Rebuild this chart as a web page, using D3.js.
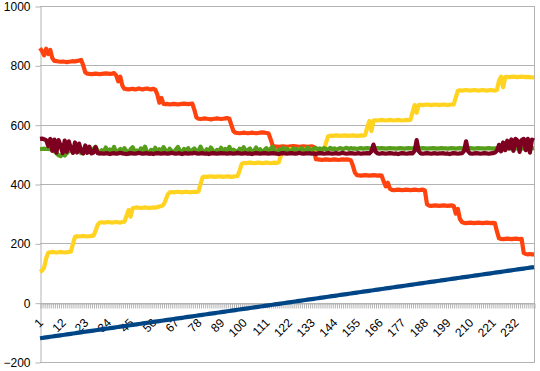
<!DOCTYPE html>
<html>
<head>
<meta charset="utf-8">
<script src="https://cdn.jsdelivr.net/npm/d3@7"></script>
<style>
  body { margin: 0; background: #fff; }
  text { font-family: "Liberation Sans", Arial, sans-serif; }
</style>
</head>
<body>
<script>
// categorias 1..241 (uma por linha da planilha)
const categories = d3.range(1, 242);
const tickLabels = [1, 12, 23, 34, 45, 56, 67, 78, 89, 100, 111, 122, 133, 144, 155, 166, 177, 188, 199, 210, 221, 232];
const yTicks = [-200, 0, 200, 400, 600, 800, 1000];

const serieAzul = [
  -120,-119,-118,-117,-116,-115,-114,-113,-112,-111,
  -110,-109,-108,-107,-106,-105,-104,-103,-102,-101,
  -100,-99,-98,-97,-96,-95,-94,-93,-92,-91,
  -90,-89,-88,-87,-86,-85,-84,-83,-82,-81,
  -80,-79,-78,-77,-76,-75,-74,-73,-72,-71,
  -70,-69,-68,-67,-66,-65,-64,-63,-62,-61,
  -60,-59,-58,-57,-56,-55,-54,-53,-52,-51,
  -50,-49,-48,-47,-46,-45,-44,-43,-42,-41,
  -40,-39,-38,-37,-36,-35,-34,-33,-32,-31,
  -30,-29,-28,-27,-26,-25,-24,-23,-22,-21,
  -20,-19,-18,-17,-16,-15,-14,-13,-12,-11,
  -10,-9,-8,-7,-6,-5,-4,-3,-2,-1,
  0,1,2,3,4,5,6,7,8,9,
  10,11,12,13,14,15,16,17,18,19,
  20,21,22,23,24,25,26,27,28,29,
  30,31,32,33,34,35,36,37,38,39,
  40,41,42,43,44,45,46,47,48,49,
  50,51,52,53,54,55,56,57,58,59,
  60,61,62,63,64,65,66,67,68,69,
  70,71,72,73,74,75,76,77,78,79,
  80,81,82,83,84,85,86,87,88,89,
  90,91,92,93,94,95,96,97,98,99,
  100,101,102,103,104,105,106,107,108,109,
  110,111,112,113,114,115,116,117,118,119,
  120
];

const serieLaranja = [
  858, 848, 834, 856, 838, 852, 824,
  815, 814, 813, 812, 813, 812, 811, 812, 813, 814, 813, 815, 816, 818,
  800, 776,
  772, 771, 770, 771, 772, 771, 770, 771, 772, 773, 772, 771, 772, 774,
  766, 746, 762, 732,
  721, 720, 719, 720, 721, 719, 720, 722, 720, 719, 721, 722, 720, 719, 721, 718,
  702, 674, 690, 670,
  669, 670, 668, 669, 670, 669, 668, 669, 670, 671, 670, 669, 670, 671,
  650, 624,
  620, 619, 620, 621, 620, 619, 618, 619, 620, 621, 620, 619, 620, 621, 622, 620,
  598, 578,
  573, 572, 571, 572, 573, 572, 571, 572, 573, 572, 571, 572, 573, 574, 573, 572, 571,
  552, 530,
  527, 526, 525, 526, 527, 526, 525, 526, 527, 528, 527, 526, 525, 526, 527, 526, 525, 526, 527, 525,
  484, 483, 482, 481, 482, 483, 482, 481, 482, 483, 482, 481, 482, 483, 482, 483, 482, 480,
  462, 438,
  430, 429, 428, 429, 430, 429, 428, 429, 430, 429, 428, 429, 428,
  408, 392, 404, 384,
  380, 379, 380, 381, 380, 379, 380, 381, 380, 379, 380, 381, 380, 379, 380, 381, 378,
  332,
  327, 326, 327, 328, 327, 326, 327, 328, 327, 326, 327, 328, 326,
  300, 316, 282, 272,
  269, 268, 269, 270, 269, 268, 269, 270, 269, 268, 269, 270, 269, 268, 269, 268,
  240, 217,
  215, 214, 215, 216, 215, 214, 215, 216, 215, 214, 215,
  168,
  164, 163, 164, 163, 163
];

const serieAmarela = [
  104, 108, 118, 150, 168,
  170, 171, 170, 169, 170, 171, 170, 169, 170, 171, 172,
  198, 222,
  224, 223, 224, 225, 224, 223, 224, 225, 226,
  242, 262, 270,
  271, 270, 271, 272, 271, 270, 271, 272, 271, 270, 272, 273,
  292, 312, 290, 318,
  320, 321, 320, 319, 320, 321, 320, 319, 320, 321, 320, 322, 324, 326,
  330, 345, 364, 372,
  373, 372, 373, 374, 373, 372, 373, 374, 373, 372, 373, 374, 373, 375,
  400, 423,
  425, 424, 425, 426, 425, 424, 425, 426, 425, 424, 425, 426, 425, 424, 425, 426, 427,
  446, 468,
  471, 470, 471, 472, 471, 470, 471, 472, 471, 470, 471, 472, 471, 470, 471, 472, 471, 473,
  495, 515,
  517, 516, 517, 518, 517, 516, 517, 518, 517, 516, 517, 518, 517, 516, 517, 518, 517, 516, 517, 518,
  540, 561,
  563, 562, 563, 564, 563, 562, 563, 564, 563, 562, 563, 564, 563, 562, 563, 564, 563, 565,
  592, 612, 578, 614,
  615, 614, 615, 616, 615, 614, 615, 616, 615, 614, 615, 616, 615, 614, 615, 616, 615, 617,
  642, 666, 640, 667,
  667, 666, 667, 668, 667, 666, 667, 668, 667, 666, 667, 668, 667, 666, 667, 668, 668,
  692, 714,
  716, 715, 716, 717, 716, 715, 716, 717, 716, 715, 716, 717, 716, 715, 716, 717, 716, 715, 717,
  748, 762, 726, 760,
  761, 760, 761, 762, 761, 760, 761, 762, 761, 760, 761, 760, 759, 760
];

const serieVerde = [
  518, 518, 519, 518, 518, 517, 516,
  510, 504, 497, 494, 500, 496, 504, 511,
  518, 506, 512, 524, 510, 504, 515, 522, 508, 513,
  505, 519, 526, 511, 503, 514, 509, 523, 507, 516,
  510, 525, 504, 512, 518, 506, 521, 511, 502, 517,
  524, 509, 513, 505, 520, 512, 526, 508, 503, 515,
  511, 522, 506, 517, 509, 524, 513, 504, 519, 510,
  507, 516, 525, 512, 503, 518, 510, 521, 506, 514,
  520, 508, 512, 526, 511, 505, 517, 509, 523, 513,
  504, 515, 510, 522, 507, 518, 512, 525, 509, 516,
  511, 503, 519, 513, 524, 508, 515, 520, 506, 512,
  523, 510, 517, 505, 514, 521, 509, 518, 526, 511,
  507, 516, 512, 522, 510, 519, 513, 508, 520, 515,
  518, 512, 521, 516, 510, 523, 517, 513, 519, 522,
  516, 520, 514, 521, 518, 515, 522, 517, 520, 516,
  519, 521, 517, 520, 522, 518, 521, 519, 520, 518,
  520, 521, 519, 520, 521, 520, 519, 521, 520, 521,
  520, 521, 520, 519, 520, 521, 520, 520, 519, 520,
  521, 520, 519, 520, 521, 520, 520, 521, 520, 519,
  520, 521, 520, 519, 520, 520, 521, 520, 519, 520,
  521, 520, 520, 519, 520, 521, 520, 519, 520, 521,
  520, 520, 519, 520, 521, 520, 519, 520, 521, 520,
  520, 519, 520, 521, 520, 519, 520, 520, 521, 520,
  519, 520, 521, 520, 520, 519, 520, 521, 520, 519,
  520, 521, 520, 519, 520, 521
];

const serieVinho = [
  552, 553, 551, 548,
  528, 552, 512, 550, 506, 548, 530, 504, 546, 508, 544, 520, 505, 540, 506, 536, 510, 503, 530, 505, 526, 503, 506, 524, 504, 503,
  503, 502, 504, 503, 501, 503, 504, 502, 503, 505,
  503, 502, 501, 503, 504, 503, 502, 503, 505, 503,
  502, 503, 504, 502, 503, 501, 503, 504, 503, 502,
  504, 503, 502, 503, 505, 503, 502, 504, 503, 501,
  503, 504, 502, 503, 503, 505, 503, 502, 503, 504,
  502, 503, 501, 503, 504, 503, 502, 503, 504, 503,
  503, 502, 504, 503, 502, 503, 505, 503, 502, 503,
  504, 502, 503, 501, 503, 504, 503, 502, 503, 504,
  503, 502, 503, 504, 503, 502, 501, 503, 504, 503,
  502, 503, 504, 503, 502, 503, 505, 503, 502, 503,
  503, 504, 502, 503, 501, 503, 504, 503, 502, 503,
  504, 503, 502, 503, 504, 502, 503, 505, 503, 502,
  503, 504, 503, 502, 503, 504, 502, 503, 503, 504,
  503, 510, 533, 509,
  503, 502, 504, 503, 502, 503, 504, 503, 502, 503, 501, 503, 504, 503, 502, 503, 504, 503,
  512, 548, 511,
  503, 502, 503, 504, 503, 502, 503, 504, 502, 503, 503, 504, 502, 503, 501, 503, 504, 503, 502, 503, 504,
  511, 544, 510,
  503, 502, 503, 504, 503, 502, 503, 504, 503, 502, 503, 504,
  506, 512, 532, 510, 540, 514, 546, 520, 550, 512, 552, 546, 508, 548, 552, 514, 552, 506, 550, 546
];

const series = [
  { valores: serieAzul, cor: "#004586" },
  { valores: serieLaranja, cor: "#ff420e" },
  { valores: serieAmarela, cor: "#ffd320" },
  { valores: serieVerde, cor: "#579d1c" },
  { valores: serieVinho, cor: "#7e0021" }
];

const largura = 540, altura = 371;
const esq = 40, dir = 534, topo = 6, base = 362;
const cinza = "#b3b3b3";

const svg = d3.select("body").append("svg")
  .attr("width", largura)
  .attr("height", altura);

const x = d3.scalePoint().domain(categories).range([esq, dir]);
const y = d3.scaleLinear().domain([-200, 1000]).range([base, topo]);

// grade horizontal
svg.append("g")
  .selectAll("line")
  .data(yTicks)
  .join("line")
  .attr("x1", esq)
  .attr("x2", dir)
  .attr("y1", d => Math.round(y(d)) + 0.5)
  .attr("y2", d => Math.round(y(d)) + 0.5)
  .attr("stroke", cinza);

// borda direita
svg.append("line")
  .attr("x1", dir + 0.5).attr("x2", dir + 0.5)
  .attr("y1", topo).attr("y2", base + 1)
  .attr("stroke", cinza);

// eixo y
const eixoY = svg.append("g")
  .attr("transform", `translate(${esq + 0.5},0.5)`)
  .call(d3.axisLeft(y).tickValues(yTicks).tickSize(5).tickSizeOuter(0).tickPadding(5).tickFormat(d3.format("d")));
eixoY.selectAll("line, path").attr("stroke", cinza);
eixoY.selectAll("text")
  .attr("fill", "#000")
  .style("font-size", "12px")
  .style("font-family", "'Liberation Sans', Arial, sans-serif");

// eixo x em y = 0
const eixoX = svg.append("g")
  .attr("transform", `translate(0.5,${Math.round(y(0)) + 0.5})`)
  .call(d3.axisBottom(x)
    .tickValues(categories)
    .tickSize(5)
    .tickSizeOuter(0)
    .tickFormat(d => tickLabels.includes(d) ? d : ""));
eixoX.selectAll("line, path").attr("stroke", cinza);
eixoX.selectAll("text")
  .attr("fill", "#000")
  .attr("x", 0)
  .attr("y", 0)
  .attr("dy", 0)
  .attr("text-anchor", "end")
  .attr("transform", "translate(3,20) rotate(-45)")
  .style("font-size", "12px")
  .style("font-family", "'Liberation Sans', Arial, sans-serif");

// linhas
const linha = d3.line()
  .x((d, i) => x(categories[i]))
  .y(d => y(d));

svg.append("g")
  .selectAll("path")
  .data(series)
  .join("path")
  .attr("d", d => linha(d.valores))
  .attr("fill", "none")
  .attr("stroke", d => d.cor)
  .attr("stroke-width", 4.2)
  .attr("stroke-linejoin", "round")
  .attr("stroke-linecap", "butt");
</script>
</body>
</html>
